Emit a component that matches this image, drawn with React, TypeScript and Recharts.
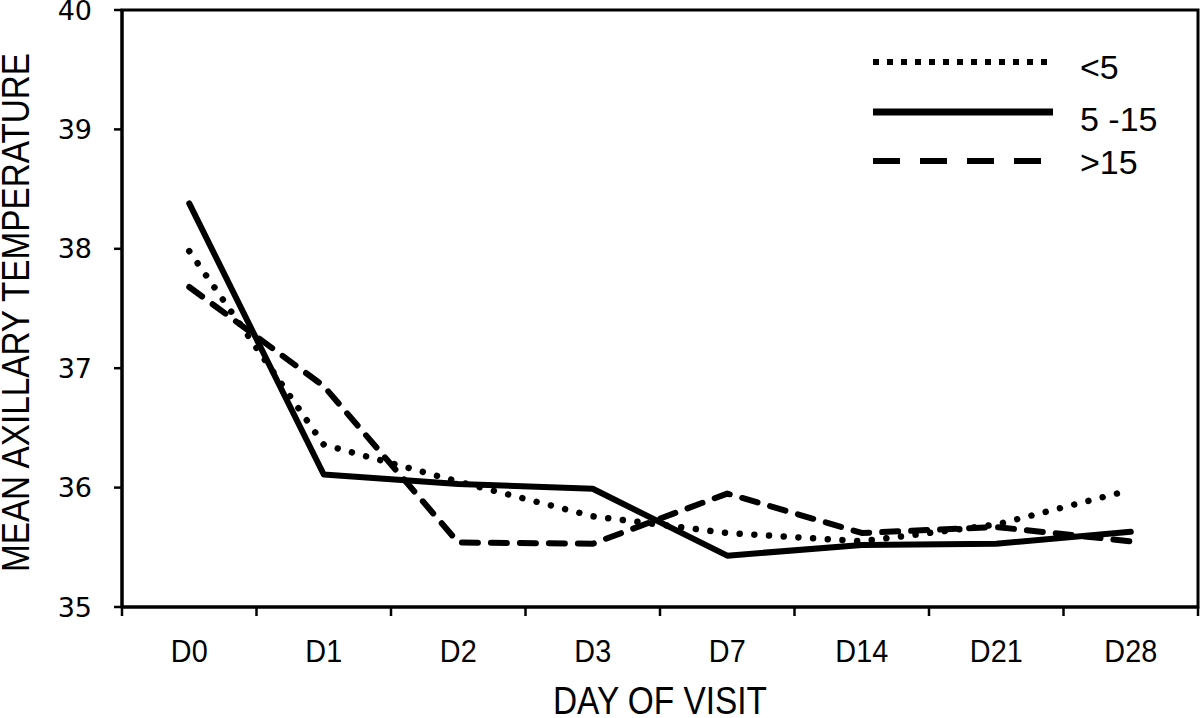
import { LineChart, Line, XAxis, YAxis, ReferenceArea } from "recharts"

const days = ["D0", "D1", "D2", "D3", "D7", "D14", "D21", "D28"]
const under5 = [37.98, 36.36, 36.05, 35.76, 35.62, 35.55, 35.69, 35.98]
const from5to15 = [38.38, 36.11, 36.03, 35.99, 35.43, 35.52, 35.53, 35.63]
const over15 = [37.68, 36.85, 35.54, 35.53, 35.95, 35.62, 35.67, 35.55]
const yTicks = [35, 36, 37, 38, 39, 40]

const groups = [
  { key: "under5", name: "<5", dash: "0.01 14.7", legendDash: "6 8" },
  { key: "from5to15", name: "5 -15", dash: undefined, legendDash: undefined },
  { key: "over15", name: ">15", dash: "16 13", legendDash: "27 20" },
]

const data = days.map((d, i) => ({
  day: d,
  under5: under5[i],
  from5to15: from5to15[i],
  over15: over15[i],
}))

const sans = "'Liberation Sans', Arial, sans-serif"

function DayTick(props: any) {
  const { x, y, payload, index } = props
  const off = payload.offset || 0
  return (
    <g>
      <line x1={x - off} y1={y} x2={x - off} y2={y + 9} stroke="#000" strokeWidth={2.5} />
      {index === days.length - 1 && (
        <line x1={x + off} y1={y} x2={x + off} y2={y + 9} stroke="#000" strokeWidth={2.5} />
      )}
      <g transform={`translate(${x} ${y + 55}) scale(0.9 1)`}>
        <text x={0} y={0} textAnchor="middle" fontFamily={sans} fontSize={32} fill="#000">
          {payload.value}
        </text>
      </g>
    </g>
  )
}

function LegendBox() {
  const rows = [22, 72, 121]
  const base = [39, 91, 134]
  return (
    <svg width={340} height={150}>
      {groups.map((g, i) => (
        <g key={g.key}>
          <line
            x1={13}
            x2={193}
            y1={rows[i]}
            y2={rows[i]}
            stroke="#000"
            strokeWidth={i === 1 ? 7 : 6}
            strokeDasharray={g.legendDash}
          />
          <text x={220} y={base[i]} fontFamily={sans} fontSize={34} fill="#000">
            {g.name}
          </text>
        </g>
      ))}
    </svg>
  )
}

export default function App() {
  return (
    <div style={{ width: 1200, height: 718, background: "#fff", position: "relative" }}>
      <style>{`body{margin:0}`}</style>
      <LineChart width={1200} height={718} data={data} margin={{ top: 10, right: 2, bottom: 0, left: 0 }}>
        <ReferenceArea y1={35} y2={40} fill="none" stroke="#000" strokeWidth={3} ifOverflow="visible" />
        <XAxis
          dataKey="day"
          scale="band"
          height={111}
          axisLine={{ stroke: "#000", strokeWidth: 3 }}
          tickLine={false}
          tickSize={0}
          tickMargin={0}
          tick={<DayTick />}
          interval={0}
          label={{
            content: (p: any) => (
              <text
                x={p.viewBox.x + p.viewBox.width / 2}
                y={p.viewBox.y + 107}
                textAnchor="middle"
                fontFamily={sans}
                fontSize={39}
                textLength={214}
                lengthAdjust="spacingAndGlyphs"
                fill="#000"
              >
                DAY OF VISIT
              </text>
            ),
          }}
        />
        <YAxis
          width={122}
          domain={[35, 40]}
          ticks={yTicks}
          interval={0}
          axisLine={{ stroke: "#000", strokeWidth: 3 }}
          tickLine={{ stroke: "#000", strokeWidth: 2.5 }}
          tickSize={8}
          tickMargin={22}
          tick={{ fill: "#000", fontSize: 27, fontFamily: "'DejaVu Sans', sans-serif" }}
          label={{
            content: (p: any) => {
              const cx = 29
              const cy = p.viewBox.y + p.viewBox.height / 2 + 4
              return (
                <text
                  x={cx}
                  y={cy}
                  transform={`rotate(-90 ${cx} ${cy})`}
                  textAnchor="middle"
                  fontFamily={sans}
                  fontSize={38}
                  textLength={519}
                  lengthAdjust="spacingAndGlyphs"
                  fill="#000"
                >
                  MEAN AXILLARY TEMPERATURE
                </text>
              )
            },
          }}
        />
        {groups.map((g) => (
          <Line
            key={g.key}
            dataKey={g.key}
            name={g.name}
            stroke="#000"
            strokeWidth={g.dash === "0.01 14.7" ? 6.5 : 6}
            strokeDasharray={g.dash}
            strokeLinecap="round"
            strokeLinejoin="round"
            dot={false}
            activeDot={false}
            isAnimationActive={false}
          />
        ))}
      </LineChart>
      <div style={{ position: "absolute", top: 40, left: 860 }}>
        <LegendBox />
      </div>
    </div>
  )
}
